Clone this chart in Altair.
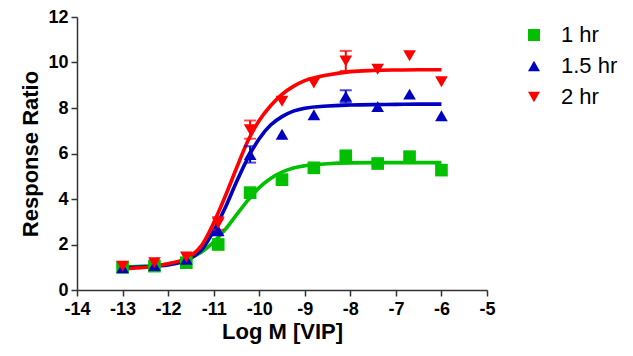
import altair as alt
import pandas as pd

# Measured data points
log_dose = [-13.0, -12.3, -11.6, -10.9, -10.2, -9.5, -8.8, -8.1, -7.4, -6.7, -6.0]
resp_1hr = [1.00, 1.05, 1.20, 2.00, 4.28, 4.85, 5.37, 5.90, 5.56, 5.86, 5.27]
resp_15hr = [0.98, 1.08, 1.35, 2.60, 5.96, 6.85, 7.70, 8.51, 8.06, 8.61, 7.66]
resp_2hr = [1.05, 1.20, 1.45, 2.93, 7.05, 8.30, 9.10, 10.07, 9.70, 10.30, 9.15]
# Error bars (SEM); 0 where the bar is hidden by the symbol
sem_1hr = [0, 0, 0, 0, 0, 0, 0, 0, 0, 0, 0]
sem_15hr = [0, 0, 0, 0, 0.36, 0, 0, 0.27, 0, 0, 0]
sem_2hr = [0, 0, 0, 0.28, 0.40, 0, 0, 0.44, 0, 0, 0]

# Fitted curves
curve_x = [-13.0, -12.5, -12.0, -11.5, -11.25, -11.0, -10.75, -10.5, -10.25, -10.0,
           -9.75, -9.5, -9.25, -9.0, -8.5, -8.0, -7.5, -7.0, -6.5, -6.0]
curve_1hr = [1.01, 1.05, 1.14, 1.42, 1.69, 2.11, 2.65, 3.30, 3.94, 4.50,
             4.90, 5.18, 5.36, 5.46, 5.55, 5.59, 5.60, 5.60, 5.60, 5.60]
curve_15hr = [0.98, 1.02, 1.10, 1.40, 1.80, 2.60, 3.60, 4.75, 5.80, 6.65,
              7.25, 7.62, 7.86, 7.99, 8.09, 8.13, 8.15, 8.16, 8.17, 8.17]
curve_2hr = [0.93, 1.00, 1.15, 1.50, 2.00, 2.95, 4.10, 5.35, 6.55, 7.45,
             8.10, 8.60, 8.95, 9.20, 9.45, 9.60, 9.65, 9.67, 9.68, 9.68]

series = ["1 hr", "1.5 hr", "2 hr"]
colors = ["#00C000", "#0000C0", "#FF0000"]
shapes = ["square", "triangle-up", "triangle-down"]

pts_rows, curve_rows = [], []
for i, (name, vals, sems) in enumerate(zip(series, [resp_1hr, resp_15hr, resp_2hr],
                                           [sem_1hr, sem_15hr, sem_2hr])):
    for x, v, s in zip(log_dose, vals, sems):
        pts_rows.append({"series": name, "order": i, "x": x, "y": v, "err": s,
                         "lo": v - s, "hi": v + s})
for i, (name, vals) in enumerate(zip(series, [curve_1hr, curve_15hr, curve_2hr])):
    for x, v in zip(curve_x, vals):
        curve_rows.append({"series": name, "order": i, "x": x, "y": v})

pts = pd.DataFrame(pts_rows)
curves = pd.DataFrame(curve_rows)

xscale = alt.Scale(domain=[-14, -5], nice=False, zero=False)
yscale = alt.Scale(domain=[0, 12], nice=False)

xaxis = alt.Axis(values=list(range(-14, -4)), title="Log M [VIP]", grid=False,
                 labelFlush=False, labelExpr="toString(datum.value)")
yaxis = alt.Axis(values=list(range(0, 13, 2)), title="Response Ratio", grid=False)

layers = []
for name, col in zip(series, colors):
    cdf = curves[curves["series"] == name]
    layers.append(alt.Chart(cdf).mark_line(strokeWidth=3.6, interpolate="monotone",
                                           color=col).encode(
        x=alt.X("x:Q", scale=xscale, axis=xaxis),
        y=alt.Y("y:Q", scale=yscale, axis=yaxis),
    ))
for name, col in zip(series, colors):
    pdf = pts[(pts["series"] == name) & (pts["err"] > 0)]
    if len(pdf) == 0:
        continue
    layers.append(alt.Chart(pdf).mark_rule(strokeWidth=2, color=col).encode(
        x="x:Q", y="lo:Q", y2="hi:Q"))
    layers.append(alt.Chart(pdf).mark_tick(orient="horizontal", size=12, thickness=2,
                                           color=col).encode(x="x:Q", y="hi:Q"))
    layers.append(alt.Chart(pdf).mark_tick(orient="horizontal", size=12, thickness=2,
                                           color=col).encode(x="x:Q", y="lo:Q"))

leg = alt.Legend(title=None, orient="none", legendX=446, legendY=7)
points = alt.Chart(pts).mark_point(filled=True, opacity=1, size=160).encode(
    x="x:Q",
    y="y:Q",
    color=alt.Color("series:N", scale=alt.Scale(domain=series, range=colors), legend=leg),
    shape=alt.Shape("series:N", scale=alt.Scale(domain=series, range=shapes), legend=leg),
    order="order:Q",
)
layers.append(points)

chart = alt.layer(*layers).properties(
    width=410, height=273,
    autosize=alt.AutoSizeParams(type="none"),
    padding={"left": 69, "top": 9, "right": 138, "bottom": 58},
).configure_view(stroke=None).configure_axis(
    domainColor="#333333", domainWidth=1.5, tickColor="#333333", tickWidth=1.5,
    tickSize=6, labelFont="Liberation Sans", labelFontWeight="bold", labelFontSize=18,
    labelColor="black", titleFont="Liberation Sans", titleFontWeight="bold",
    titleFontSize=22, titleColor="black",
).configure_axisX(labelPadding=4, titlePadding=3).configure_axisY(
    labelPadding=3, titlePadding=5).configure_legend(
    labelFont="Liberation Sans", labelFontSize=22, labelColor="black",
    symbolSize=144, rowPadding=9, labelOffset=16, padding=0,
)

chart.save("out.html", embed_options={"renderer": "svg", "actions": False})
